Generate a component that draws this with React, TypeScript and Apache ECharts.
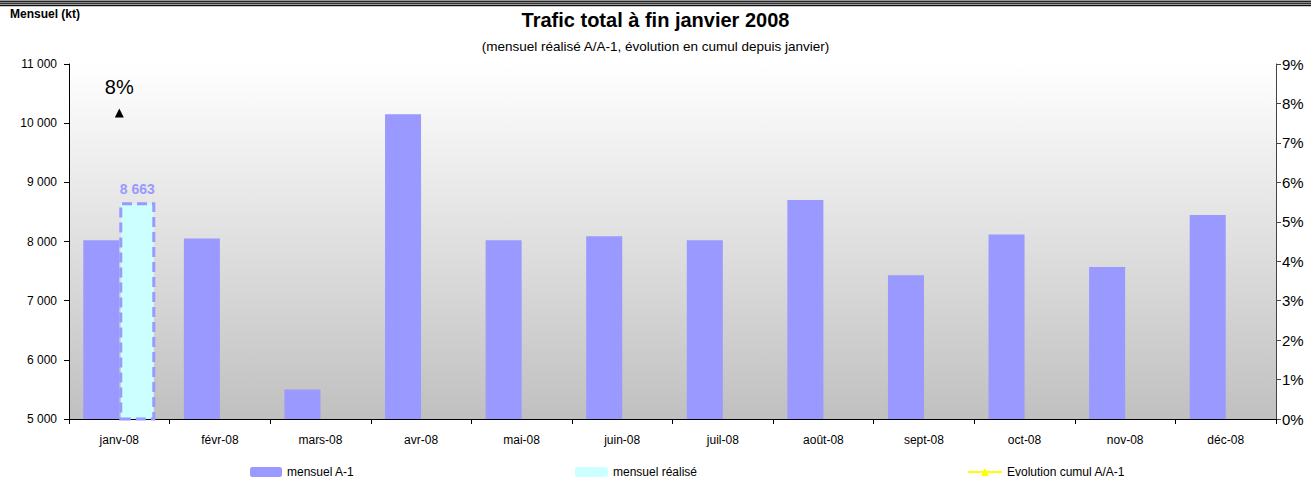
import React, { useEffect, useRef } from "react";
import * as echarts from "echarts";

const months = ["janv-08", "févr-08", "mars-08", "avr-08", "mai-08", "juin-08", "juil-08", "août-08", "sept-08", "oct-08", "nov-08", "déc-08"];
const mensuelA1 = [8020, 8050, 5500, 10150, 8020, 8090, 8020, 8700, 7430, 8120, 7570, 8450];
const mensuelRealise = [8663, null, null, null, null, null, null, null, null, null, null, null];
const evolutionCumul = [0.0776, null, null, null, null, null, null, null, null, null, null, null];
const leftTicks = { min: 5000, max: 11000, interval: 1000 };
const rightTicks = { min: 0, max: 0.09, interval: 0.01 };

const FONT = "'Liberation Sans', Arial, sans-serif";

function fmtThousands(v: number): string {
  return String(Math.round(v)).replace(/\B(?=(\d{3})+(?!\d))/g, " ");
}

export default function App() {
  const ref = useRef<HTMLDivElement>(null);
  useEffect(() => {
    if (!ref.current) return;
    const chart = echarts.init(ref.current, null, { renderer: "svg" });
    const stripeColors = ["#9a9a9a", "#222", "#8a8a8a", "#333", "#999", "#111", "#c8c8c8"];
    const legendBase = {
      top: 466,
      padding: 0,
      itemHeight: 10,
      textStyle: { fontSize: 12, color: "#000", fontFamily: FONT },
    };
    const option: any = {
      animation: false,
      textStyle: { fontFamily: FONT },
      title: [
        {
          text: "Trafic total à fin janvier 2008",
          left: "center",
          top: 5,
          textStyle: { fontSize: 20, fontWeight: "bold", color: "#000", fontFamily: FONT },
        },
        {
          text: "(mensuel réalisé A/A-1, évolution en cumul depuis janvier)",
          left: "center",
          top: 34,
          textStyle: { fontSize: 13.5, fontWeight: "normal", color: "#000", fontFamily: FONT },
        },
        {
          text: "Mensuel (kt)",
          left: 5,
          top: 3,
          textStyle: { fontSize: 12, fontWeight: "bold", color: "#000", fontFamily: FONT },
        },
      ],
      graphic: stripeColors.map((c, i) => ({
        type: "line",
        shape: { x1: 0, y1: i + 0.5, x2: 1311, y2: i + 0.5 },
        style: { stroke: c, lineWidth: 1 },
        silent: true,
      })),
      legend: [
        { ...legendBase, data: ["mensuel A-1"], left: 250, itemWidth: 32 },
        { ...legendBase, data: ["mensuel réalisé"], left: 575, itemWidth: 33, itemStyle: { borderWidth: 0 } },
        { ...legendBase, data: ["Evolution cumul A/A-1"], left: 967, itemWidth: 34 },
      ],
      grid: {
        left: 69,
        right: 35,
        top: 64,
        bottom: 61,
        show: true,
        borderWidth: 0,
        backgroundColor: new echarts.graphic.LinearGradient(0, 0, 0, 1, [
          { offset: 0, color: "#ffffff" },
          { offset: 1, color: "#c0c0c0" },
        ]),
      },
      xAxis: {
        type: "category",
        data: months,
        axisLine: { lineStyle: { color: "#000", width: 1 } },
        axisTick: { show: true, alignWithLabel: false, length: 5, lineStyle: { color: "#000" } },
        axisLabel: { fontSize: 12, color: "#000", margin: 15, fontFamily: FONT },
        splitLine: { show: false },
      },
      yAxis: [
        {
          type: "value",
          min: leftTicks.min,
          max: leftTicks.max,
          interval: leftTicks.interval,
          axisLine: { show: true, lineStyle: { color: "#000" } },
          axisTick: { show: true, length: 5, lineStyle: { color: "#000" } },
          axisLabel: { fontSize: 12, color: "#000", margin: 12, formatter: (v: number) => fmtThousands(v), fontFamily: FONT },
          splitLine: { show: false },
        },
        {
          type: "value",
          position: "right",
          min: rightTicks.min,
          max: rightTicks.max,
          interval: rightTicks.interval,
          axisLine: { show: true, lineStyle: { color: "#444" } },
          axisTick: { show: true, length: 5, lineStyle: { color: "#444" } },
          axisLabel: { fontSize: 15, color: "#000", margin: 6, formatter: (v: number) => Math.round(v * 100) + "%", fontFamily: FONT },
          splitLine: { show: false },
        },
      ],
      series: [
        {
          name: "mensuel A-1",
          type: "bar",
          data: mensuelA1,
          barWidth: 36,
          barGap: "0%",
          itemStyle: { color: "#9999ff" },
        },
        {
          name: "mensuel réalisé",
          type: "bar",
          data: mensuelRealise,
          barWidth: 36,
          barGap: "0%",
          itemStyle: { color: "#ccffff", borderColor: "#9999ff", borderWidth: 3, borderType: [10, 5] },
          label: {
            show: true,
            position: "top",
            distance: 6,
            color: "#9999ff",
            fontSize: 14,
            fontWeight: "bold",
            fontFamily: FONT,
            formatter: (p: any) => fmtThousands(p.value),
          },
        },
        {
          name: "Evolution cumul A/A-1",
          type: "line",
          yAxisIndex: 1,
          data: evolutionCumul.map((v, i) => (i === 0 ? { value: v, itemStyle: { color: "#000" } } : v)),
          symbol: "triangle",
          symbolSize: 9,
          showAllSymbol: true,
          itemStyle: { color: "#ffff00" },
          lineStyle: { color: "#ffff00", width: 1 },
          label: {
            show: true,
            position: "top",
            distance: 11,
            color: "#000",
            fontSize: 20,
            fontWeight: 500,
            fontFamily: FONT,
            formatter: (p: any) => (p.value == null ? "" : Math.round(p.value * 100) + "%"),
          },
        },
      ],
    };
    chart.setOption(option);
    return () => chart.dispose();
  }, []);
  return <div ref={ref} style={{ position: "absolute", left: 0, top: 0, width: 1311, height: 480 }} />;
}
